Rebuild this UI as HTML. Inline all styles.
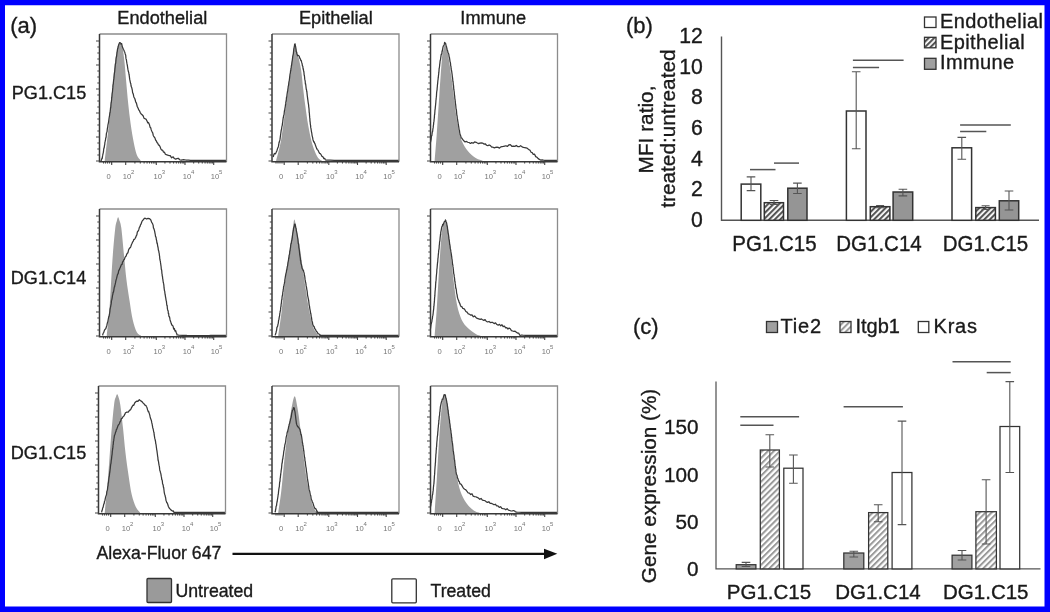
<!DOCTYPE html>
<html><head><meta charset="utf-8"><style>
html,body{margin:0;padding:0;background:#fff;}
body{width:1050px;height:612px;overflow:hidden;position:relative;}
.frame{position:absolute;left:0;top:0;width:1050px;height:612px;box-sizing:border-box;border-style:solid;border-color:#0000ff;border-width:5.2px 5.5px 5.6px 5px;}
svg{position:absolute;left:0;top:0;}
text{font-family:"Liberation Sans", sans-serif;stroke:#1a1a1a;stroke-width:0.35px;}
svg{will-change:transform;}
text.tl{stroke:none;}
</style></head><body>
<svg width="1050" height="612" viewBox="0 0 1050 612">
<defs><pattern id="hatch" patternUnits="userSpaceOnUse" width="4.2" height="4.2" patternTransform="rotate(45)">
<rect width="4.2" height="4.2" fill="#fff"/><rect x="0" y="0" width="2" height="4.2" fill="#9a9a9a"/></pattern>
<pattern id="hatchB" patternUnits="userSpaceOnUse" width="3.9" height="3.9" patternTransform="rotate(45)">
<rect width="3.9" height="3.9" fill="#fff"/><rect x="0" y="0" width="2.1" height="3.9" fill="#555"/></pattern></defs>
<text x="10.30" y="33.00" font-size="22.00" text-anchor="start" fill="#1a1a1a" >(a)</text>
<text x="162.30" y="24.30" font-size="18.20" text-anchor="middle" fill="#1a1a1a" >Endothelial</text>
<text x="335.80" y="24.30" font-size="18.20" text-anchor="middle" fill="#1a1a1a" >Epithelial</text>
<text x="493.20" y="24.30" font-size="18.20" text-anchor="middle" fill="#1a1a1a" >Immune</text>
<text x="11.80" y="99.30" font-size="18.10" text-anchor="start" fill="#1a1a1a" >PG1.C15</text>
<text x="10.80" y="283.60" font-size="18.10" text-anchor="start" fill="#1a1a1a" >DG1.C14</text>
<text x="10.80" y="458.60" font-size="18.10" text-anchor="start" fill="#1a1a1a" >DG1.C15</text>
<path d="M104.69,160.55 C105.21,156.16 106.76,143.84 107.80,134.24 C108.84,124.63 109.88,113.35 110.91,102.91 C111.95,92.47 112.99,80.64 114.03,71.59 C115.06,62.54 116.24,53.32 117.14,48.62 C118.04,43.92 118.56,43.68 119.42,43.40 C120.29,43.12 121.50,43.99 122.33,46.95 C123.16,49.91 123.78,55.65 124.40,61.15 C125.02,66.65 125.44,72.98 126.06,79.94 C126.68,86.90 127.38,95.60 128.14,102.91 C128.90,110.22 129.69,117.18 130.63,123.79 C131.56,130.41 132.70,137.37 133.74,142.59 C134.78,147.81 135.71,152.12 136.85,155.12 C137.99,158.11 139.97,159.64 140.59,160.55 L140.59,161.80 L104.69,161.80 Z" fill="#a0a0a0" stroke="none"/>
<path d="M100.54,160.55 L101.03,160.99 L101.99,158.22 L102.16,158.75 L102.35,157.72 L102.54,155.83 L102.75,155.18 L102.97,153.93 L103.21,153.05 L103.44,151.99 L103.69,149.37 L103.94,147.85 L104.19,147.85 L104.45,145.66 L104.71,144.76 L104.97,141.91 L105.22,141.22 L105.48,140.25 L105.73,137.92 L105.94,138.01 L106.15,136.70 L106.37,133.89 L106.59,132.62 L106.81,132.27 L107.04,131.70 L107.27,129.39 L107.50,127.78 L107.73,126.83 L107.95,124.78 L108.18,123.79 L108.41,122.82 L108.63,121.57 L108.85,119.73 L109.06,118.36 L109.27,116.97 L109.48,116.03 L109.68,114.35 L109.88,112.49 L110.05,112.71 L110.21,110.95 L110.37,109.84 L110.53,107.75 L110.69,107.92 L110.84,106.40 L110.99,103.78 L111.14,102.86 L111.28,102.26 L111.43,100.94 L111.57,100.04 L111.71,97.81 L111.85,97.24 L111.99,95.64 L112.13,93.67 L112.27,92.87 L112.41,92.10 L112.55,90.73 L112.70,88.81 L112.84,87.66 L112.99,85.37 L113.14,84.43 L113.29,84.10 L113.44,82.05 L113.60,80.23 L113.75,79.51 L113.91,78.39 L114.06,76.93 L114.22,74.98 L114.38,73.69 L114.53,72.43 L114.69,71.53 L114.84,69.71 L114.99,68.14 L115.14,67.01 L115.29,64.90 L115.43,63.69 L115.57,63.68 L115.71,63.04 L115.85,61.24 L115.98,59.84 L116.10,58.47 L116.38,56.98 L116.63,55.99 L116.86,53.96 L117.08,52.08 L117.30,51.34 L117.51,49.03 L117.72,48.47 L117.94,48.27 L118.18,46.67 L118.90,44.20 L119.64,42.57 L120.46,42.86 L121.02,44.16 L121.63,43.56 L122.25,46.37 L122.84,47.91 L123.36,49.31 L123.91,50.30 L124.38,51.56 L124.80,52.29 L125.23,53.95 L125.48,54.81 L125.71,55.36 L125.94,58.13 L126.16,58.97 L126.39,59.74 L126.64,61.76 L126.89,63.21 L127.13,64.32 L127.38,65.71 L127.64,67.50 L127.90,69.13 L128.17,70.60 L128.44,71.80 L128.71,72.47 L128.97,74.23 L129.23,75.50 L129.48,77.57 L129.74,79.39 L129.99,80.58 L130.25,81.87 L130.51,83.19 L130.77,83.45 L131.04,85.78 L131.35,86.92 L131.66,87.30 L131.97,88.62 L132.29,90.03 L132.62,92.76 L132.96,93.21 L133.33,94.27 L133.77,96.68 L134.24,97.60 L134.73,98.50 L135.22,100.02 L135.73,102.03 L136.23,102.73 L136.73,104.30 L137.23,106.49 L137.73,107.41 L138.25,108.52 L138.79,110.06 L139.34,110.41 L140.22,112.57 L141.15,113.93 L142.10,114.71 L143.08,115.78 L144.10,118.38 L145.17,118.79 L146.23,119.41 L147.23,121.48 L147.85,122.88 L148.43,122.51 L148.99,123.64 L149.56,125.08 L150.14,127.40 L150.76,127.78 L151.24,129.88 L151.73,131.04 L152.22,132.07 L152.73,132.79 L153.25,135.47 L153.78,136.46 L154.33,137.23 L154.91,137.91 L155.58,140.01 L156.28,140.87 L157.00,142.48 L157.74,143.28 L158.51,145.07 L159.29,145.23 L160.09,146.82 L160.92,149.16 L161.78,150.12 L162.66,150.19 L163.55,152.24 L164.47,152.24 L165.39,154.27 L166.32,154.72 L167.61,155.06 L168.90,155.51 L170.22,155.69 L171.63,157.79 L173.17,156.79 L174.36,158.55 L175.62,159.13 L176.94,158.71 L178.30,158.26 L179.69,159.75 L181.10,160.15 L182.51,159.87 L183.59,159.68 L184.48,159.80 L185.30,159.93 L186.18,160.04 L187.24,160.13 L188.63,160.21 L190.47,160.28 L192.88,160.34 L193.82,160.35 L194.88,160.37 L196.05,160.38 L197.31,160.39 L198.66,160.39 L200.08,160.40 L201.56,160.40 L203.09,160.40 L204.67,160.40 L206.27,160.40 L207.89,160.40 L209.52,160.39 L211.15,160.39 L212.77,160.38 L214.36,160.38 L215.91,160.37 L217.42,160.37 L218.87,160.36 L220.25,160.36 L221.56,160.35 L222.77,160.35 L223.88,160.34 L224.88,160.34 L225.76,160.34 L226.50,160.34" fill="none" stroke="#383838" stroke-width="1.25" stroke-linejoin="round"/>
<path d="M99.50,34.00 H226.50 V161.80" fill="none" stroke="#8c8c8c" stroke-width="1.3"/>
<path d="M99.50,34.00 V161.80 H226.50" fill="none" stroke="#383838" stroke-width="1.5"/>
<path d="M99.50,41.00 h-3.5 M99.50,47.00 h-2.2 M99.50,53.00 h-2.2 M99.50,59.00 h-2.2 M99.50,65.00 h-3.5 M99.50,71.00 h-2.2 M99.50,77.00 h-2.2 M99.50,83.00 h-2.2 M99.50,89.00 h-3.5 M99.50,95.00 h-2.2 M99.50,101.00 h-2.2 M99.50,107.00 h-2.2 M99.50,113.00 h-3.5 M99.50,119.00 h-2.2 M99.50,125.00 h-2.2 M99.50,131.00 h-2.2 M99.50,137.00 h-3.5 M99.50,143.00 h-2.2 M99.50,149.00 h-2.2 M99.50,155.00 h-2.2 M99.50,161.00 h-3.5 M111.70,161.80 v3.2 M125.70,161.80 v3.2 M156.30,161.80 v3.2 M185.00,161.80 v3.2 M213.70,161.80 v3.2 M134.91,161.80 v1.8 M140.30,161.80 v1.8 M144.12,161.80 v1.8 M147.09,161.80 v1.8 M149.51,161.80 v1.8 M151.56,161.80 v1.8 M153.33,161.80 v1.8 M154.90,161.80 v1.8 M164.94,161.80 v1.8 M169.99,161.80 v1.8 M173.58,161.80 v1.8 M176.36,161.80 v1.8 M178.63,161.80 v1.8 M180.55,161.80 v1.8 M182.22,161.80 v1.8 M183.69,161.80 v1.8 M193.64,161.80 v1.8 M198.69,161.80 v1.8 M202.28,161.80 v1.8 M205.06,161.80 v1.8 M207.33,161.80 v1.8 M209.25,161.80 v1.8 M210.92,161.80 v1.8 M212.39,161.80 v1.8 M103.50,161.80 v1.8 M105.50,161.80 v1.8 M107.50,161.80 v1.8 M109.50,161.80 v1.8 M111.50,161.80 v1.8" fill="none" stroke="#444" stroke-width="1.1"/>
<g font-size="7.6" fill="#767676"><text class="tl" x="108.50" y="179.20" text-anchor="middle">0</text><text class="tl" x="127.00" y="179.20" text-anchor="middle">10</text><text class="tl" x="131.10" y="174.20" font-size="6">2</text><text class="tl" x="157.70" y="179.20" text-anchor="middle">10</text><text class="tl" x="161.80" y="174.20" font-size="6">3</text><text class="tl" x="187.00" y="179.20" text-anchor="middle">10</text><text class="tl" x="191.10" y="174.20" font-size="6">4</text><text class="tl" x="215.00" y="179.20" text-anchor="middle">10</text><text class="tl" x="219.10" y="174.20" font-size="6">5</text></g>
<path d="M276.15,160.55 C277.01,156.86 279.61,148.37 281.34,138.41 C283.07,128.46 284.97,111.96 286.53,100.82 C288.08,89.69 289.47,80.12 290.68,71.59 C291.89,63.06 293.03,53.84 293.79,49.66 C294.55,45.49 294.55,45.66 295.24,46.53 C295.93,47.40 296.97,51.05 297.94,54.88 C298.91,58.71 300.19,63.93 301.05,69.50 C301.92,75.07 302.44,82.38 303.13,88.29 C303.82,94.21 304.34,98.74 305.20,105.00 C306.07,111.26 307.10,119.27 308.32,125.88 C309.53,132.50 310.91,139.46 312.47,144.68 C314.02,149.90 316.10,154.56 317.65,157.21 C319.21,159.85 321.11,159.99 321.80,160.55 L321.80,161.80 L276.15,161.80 Z" fill="#a0a0a0" stroke="none"/>
<path d="M273.04,156.98 L273.44,156.38 L273.97,154.14 L274.60,153.45 L275.31,153.89 L276.05,152.58 L276.81,151.03 L277.54,148.61 L278.23,146.96 L278.46,146.04 L278.70,145.01 L278.93,143.21 L279.17,142.59 L279.40,141.36 L279.64,140.74 L279.88,139.96 L280.11,138.58 L280.35,136.51 L280.58,134.95 L280.82,133.23 L281.06,131.38 L281.29,129.92 L281.53,129.24 L281.76,127.50 L282.00,126.12 L282.23,125.56 L282.47,123.41 L282.71,122.00 L282.94,119.94 L283.18,118.11 L283.41,117.21 L283.61,115.66 L283.82,115.10 L284.02,114.72 L284.22,112.87 L284.43,110.70 L284.63,110.68 L284.84,109.20 L285.04,107.77 L285.25,106.76 L285.46,105.17 L285.66,103.89 L285.87,101.77 L286.07,101.56 L286.28,100.19 L286.48,97.42 L286.68,97.16 L286.88,95.77 L287.08,94.00 L287.28,92.83 L287.47,91.47 L287.67,90.98 L287.86,88.96 L288.05,88.31 L288.24,86.23 L288.42,85.98 L288.60,84.84 L288.82,82.60 L289.05,81.35 L289.27,80.54 L289.49,78.74 L289.71,76.88 L289.92,74.98 L290.14,73.75 L290.35,73.02 L290.56,70.68 L290.77,70.65 L290.97,68.15 L291.17,67.99 L291.37,65.62 L291.56,65.53 L291.75,63.85 L291.93,62.30 L292.11,61.17 L292.28,60.30 L292.44,59.12 L292.60,57.60 L292.75,56.44 L293.07,54.84 L293.35,53.56 L293.60,51.12 L293.82,48.43 L294.02,48.28 L294.21,46.86 L294.41,46.20 L294.61,44.24 L294.83,44.88 L295.11,43.88 L295.39,45.96 L295.66,46.80 L295.94,48.53 L296.23,51.57 L296.55,51.87 L296.90,53.88 L297.61,55.74 L298.39,55.40 L299.21,56.13 L300.01,58.70 L300.41,58.86 L300.82,60.50 L301.23,60.49 L301.64,62.40 L302.04,63.45 L302.42,65.79 L302.79,66.21 L303.13,69.27 L303.37,68.80 L303.59,71.27 L303.79,71.21 L303.98,72.87 L304.17,75.15 L304.35,75.31 L304.54,76.75 L304.74,79.14 L304.96,80.16 L305.20,81.21 L305.37,84.00 L305.54,83.61 L305.72,84.54 L305.91,86.26 L306.10,87.94 L306.29,89.39 L306.49,89.51 L306.69,91.20 L306.90,91.96 L307.10,94.06 L307.31,96.00 L307.51,97.36 L307.72,99.10 L307.92,100.31 L308.12,102.02 L308.32,103.28 L308.45,104.03 L308.59,104.81 L308.72,106.87 L308.85,107.57 L308.98,108.54 L309.11,110.56 L309.23,112.74 L309.36,112.83 L309.49,115.10 L309.61,116.21 L309.74,117.88 L309.87,118.66 L310.01,121.57 L310.14,121.73 L310.28,123.75 L310.43,124.78 L310.58,125.39 L310.74,127.65 L310.90,128.14 L311.07,129.17 L311.24,130.25 L311.43,131.54 L311.78,133.22 L312.15,135.85 L312.53,137.15 L312.93,139.44 L313.34,140.68 L313.76,142.04 L314.20,141.86 L314.66,143.38 L315.12,144.13 L315.61,145.82 L316.10,146.95 L316.62,148.35 L317.31,149.62 L318.03,150.20 L318.77,151.85 L319.53,153.31 L320.32,153.58 L321.15,154.75 L322.02,156.43 L322.92,156.79 L323.88,158.65 L324.66,158.46 L324.98,158.69 L325.15,159.16 L325.47,159.95 L326.25,160.08 L327.77,160.16 L330.33,160.23 L334.25,160.34 L335.06,160.36 L335.93,160.38 L336.87,160.39 L337.87,160.41 L338.93,160.42 L340.05,160.44 L341.22,160.45 L342.44,160.46 L343.71,160.47 L345.03,160.47 L346.38,160.48 L347.78,160.48 L349.21,160.49 L350.68,160.49 L352.17,160.49 L353.69,160.49 L355.24,160.49 L356.81,160.49 L358.39,160.49 L359.99,160.49 L361.60,160.48 L363.21,160.48 L364.84,160.48 L366.46,160.47 L368.09,160.47 L369.71,160.46 L371.32,160.45 L372.93,160.45 L374.52,160.44 L376.10,160.43 L377.66,160.43 L379.19,160.42 L380.70,160.41 L382.18,160.41 L383.64,160.40 L385.05,160.39 L386.43,160.39 L387.77,160.38 L389.07,160.37 L390.32,160.37 L391.52,160.36 L392.67,160.36 L393.77,160.35 L394.80,160.35 L395.78,160.34 L396.69,160.34 L397.53,160.34 L398.30,160.34 L399.00,160.34" fill="none" stroke="#383838" stroke-width="1.25" stroke-linejoin="round"/>
<path d="M272.00,34.00 H399.00 V161.80" fill="none" stroke="#8c8c8c" stroke-width="1.3"/>
<path d="M272.00,34.00 V161.80 H399.00" fill="none" stroke="#383838" stroke-width="1.5"/>
<path d="M272.00,41.00 h-3.5 M272.00,47.00 h-2.2 M272.00,53.00 h-2.2 M272.00,59.00 h-2.2 M272.00,65.00 h-3.5 M272.00,71.00 h-2.2 M272.00,77.00 h-2.2 M272.00,83.00 h-2.2 M272.00,89.00 h-3.5 M272.00,95.00 h-2.2 M272.00,101.00 h-2.2 M272.00,107.00 h-2.2 M272.00,113.00 h-3.5 M272.00,119.00 h-2.2 M272.00,125.00 h-2.2 M272.00,131.00 h-2.2 M272.00,137.00 h-3.5 M272.00,143.00 h-2.2 M272.00,149.00 h-2.2 M272.00,155.00 h-2.2 M272.00,161.00 h-3.5 M284.20,161.80 v3.2 M298.20,161.80 v3.2 M328.80,161.80 v3.2 M357.50,161.80 v3.2 M386.20,161.80 v3.2 M307.41,161.80 v1.8 M312.80,161.80 v1.8 M316.62,161.80 v1.8 M319.59,161.80 v1.8 M322.01,161.80 v1.8 M324.06,161.80 v1.8 M325.83,161.80 v1.8 M327.40,161.80 v1.8 M337.44,161.80 v1.8 M342.49,161.80 v1.8 M346.08,161.80 v1.8 M348.86,161.80 v1.8 M351.13,161.80 v1.8 M353.05,161.80 v1.8 M354.72,161.80 v1.8 M356.19,161.80 v1.8 M366.14,161.80 v1.8 M371.19,161.80 v1.8 M374.78,161.80 v1.8 M377.56,161.80 v1.8 M379.83,161.80 v1.8 M381.75,161.80 v1.8 M383.42,161.80 v1.8 M384.89,161.80 v1.8 M276.00,161.80 v1.8 M278.00,161.80 v1.8 M280.00,161.80 v1.8 M282.00,161.80 v1.8 M284.00,161.80 v1.8" fill="none" stroke="#444" stroke-width="1.1"/>
<g font-size="7.6" fill="#767676"><text class="tl" x="281.00" y="179.20" text-anchor="middle">0</text><text class="tl" x="299.50" y="179.20" text-anchor="middle">10</text><text class="tl" x="303.60" y="174.20" font-size="6">2</text><text class="tl" x="330.20" y="179.20" text-anchor="middle">10</text><text class="tl" x="334.30" y="174.20" font-size="6">3</text><text class="tl" x="359.50" y="179.20" text-anchor="middle">10</text><text class="tl" x="363.60" y="174.20" font-size="6">4</text><text class="tl" x="387.50" y="179.20" text-anchor="middle">10</text><text class="tl" x="391.60" y="174.20" font-size="6">5</text></g>
<path d="M434.65,160.55 C435.00,156.16 435.96,144.89 436.73,134.24 C437.49,123.59 438.35,109.18 439.22,96.65 C440.08,84.12 441.22,66.89 441.91,59.06 C442.61,51.23 442.92,51.92 443.37,49.66 C443.82,47.40 444.20,45.94 444.61,45.49 C445.03,45.03 445.27,45.38 445.86,46.95 C446.44,48.51 447.24,50.08 448.14,54.88 C449.04,59.69 450.21,68.11 451.25,75.76 C452.29,83.42 453.33,92.82 454.36,100.82 C455.40,108.83 456.27,117.18 457.48,123.79 C458.69,130.41 459.90,135.98 461.63,140.50 C463.36,145.02 465.43,147.98 467.85,150.94 C470.27,153.90 473.73,156.65 476.15,158.25 C478.57,159.85 481.34,160.16 482.38,160.55 L482.38,161.80 L434.65,161.80 Z" fill="#a0a0a0" stroke="none"/>
<path d="M430.50,142.12 L430.63,141.93 L430.78,140.77 L430.96,140.22 L431.16,139.18 L431.38,136.99 L431.62,135.63 L431.86,135.76 L432.12,133.28 L432.37,131.72 L432.63,131.52 L432.89,128.94 L433.14,127.91 L433.38,125.52 L433.61,124.04 L433.74,122.10 L433.87,121.86 L434.00,121.13 L434.13,119.32 L434.26,118.48 L434.39,117.10 L434.52,114.73 L434.65,114.67 L434.78,113.04 L434.91,111.17 L435.04,109.32 L435.17,109.44 L435.30,107.35 L435.43,106.40 L435.56,105.30 L435.69,103.61 L435.82,102.59 L435.95,100.26 L436.08,99.62 L436.21,97.62 L436.34,97.16 L436.47,95.73 L436.60,93.02 L436.73,91.82 L436.87,90.57 L437.01,90.51 L437.15,88.14 L437.30,87.04 L437.44,85.01 L437.59,83.94 L437.73,82.27 L437.87,80.76 L438.02,79.74 L438.16,78.31 L438.31,77.47 L438.45,75.67 L438.59,74.75 L438.74,73.27 L438.88,72.19 L439.02,70.33 L439.16,68.17 L439.30,68.22 L439.43,67.25 L439.57,66.03 L439.71,64.36 L439.84,63.62 L440.13,60.69 L440.42,59.99 L440.71,57.89 L441.00,55.91 L441.28,54.19 L441.55,54.41 L441.82,53.54 L442.07,50.88 L442.31,51.17 L442.54,49.50 L443.04,46.95 L443.48,45.66 L443.86,45.38 L444.20,44.69 L444.64,42.37 L445.03,43.60 L445.52,43.22 L446.27,46.50 L446.55,46.72 L446.88,48.75 L447.23,50.10 L447.61,50.55 L448.00,52.86 L448.40,53.16 L448.79,54.42 L449.18,57.15 L449.39,57.21 L449.61,58.62 L449.83,60.16 L450.05,61.72 L450.27,62.14 L450.50,63.21 L450.72,66.01 L450.94,66.37 L451.17,68.94 L451.39,70.27 L451.62,70.82 L451.84,72.50 L452.07,74.18 L452.29,76.02 L452.44,77.05 L452.59,78.15 L452.73,79.46 L452.88,81.27 L453.03,81.75 L453.18,82.91 L453.33,84.75 L453.48,85.21 L453.62,86.68 L453.77,89.25 L453.92,89.80 L454.07,91.22 L454.22,91.62 L454.36,93.71 L454.51,95.36 L454.66,95.69 L454.81,98.09 L454.96,99.42 L455.11,99.66 L455.25,101.93 L455.40,102.85 L455.59,104.71 L455.77,105.60 L455.95,107.72 L456.13,109.25 L456.32,109.43 L456.50,110.96 L456.68,113.51 L456.87,115.44 L457.05,115.56 L457.23,117.30 L457.42,118.88 L457.60,119.69 L457.78,121.04 L457.97,122.17 L458.15,123.45 L458.33,124.98 L458.51,125.52 L458.84,127.56 L459.15,130.02 L459.44,130.29 L459.73,132.75 L460.03,134.41 L460.36,134.90 L460.73,135.89 L461.14,137.99 L461.63,137.94 L462.64,139.29 L463.79,140.77 L465.06,141.98 L466.43,141.44 L467.85,142.27 L469.09,142.51 L470.39,143.42 L471.74,142.61 L473.16,143.23 L474.63,141.92 L476.15,142.29 L477.35,143.01 L478.60,143.63 L479.89,143.08 L481.21,142.94 L482.55,143.04 L483.89,144.09 L485.22,143.79 L486.53,145.23 L487.83,145.66 L489.12,144.94 L490.42,145.61 L491.72,147.06 L493.01,147.23 L494.31,147.92 L495.61,147.38 L496.91,147.14 L498.20,147.41 L499.50,148.13 L500.80,146.90 L502.09,146.68 L503.39,146.43 L504.69,146.07 L505.98,145.75 L507.28,146.48 L508.78,144.97 L510.31,144.62 L511.84,146.26 L513.36,146.15 L514.84,146.38 L516.28,145.47 L517.66,146.53 L519.18,146.68 L520.65,145.65 L522.07,146.88 L523.42,147.41 L524.72,147.55 L525.96,147.84 L527.09,148.11 L528.11,148.99 L529.07,149.67 L530.03,150.32 L531.05,152.22 L532.18,152.65 L533.28,154.47 L534.46,154.08 L535.70,156.64 L536.96,157.27 L538.20,158.62 L539.39,159.38 L540.48,160.01 L542.08,159.95 L543.44,160.21 L544.88,160.27 L546.71,160.34 L547.91,160.39 L549.34,160.41 L550.90,160.41 L552.49,160.40 L554.04,160.38 L555.45,160.36 L556.64,160.35 L557.50,160.34" fill="none" stroke="#383838" stroke-width="1.25" stroke-linejoin="round"/>
<path d="M430.50,34.00 H557.50 V161.80" fill="none" stroke="#8c8c8c" stroke-width="1.3"/>
<path d="M430.50,34.00 V161.80 H557.50" fill="none" stroke="#383838" stroke-width="1.5"/>
<path d="M430.50,41.00 h-3.5 M430.50,47.00 h-2.2 M430.50,53.00 h-2.2 M430.50,59.00 h-2.2 M430.50,65.00 h-3.5 M430.50,71.00 h-2.2 M430.50,77.00 h-2.2 M430.50,83.00 h-2.2 M430.50,89.00 h-3.5 M430.50,95.00 h-2.2 M430.50,101.00 h-2.2 M430.50,107.00 h-2.2 M430.50,113.00 h-3.5 M430.50,119.00 h-2.2 M430.50,125.00 h-2.2 M430.50,131.00 h-2.2 M430.50,137.00 h-3.5 M430.50,143.00 h-2.2 M430.50,149.00 h-2.2 M430.50,155.00 h-2.2 M430.50,161.00 h-3.5 M442.70,161.80 v3.2 M456.70,161.80 v3.2 M487.30,161.80 v3.2 M516.00,161.80 v3.2 M544.70,161.80 v3.2 M465.91,161.80 v1.8 M471.30,161.80 v1.8 M475.12,161.80 v1.8 M478.09,161.80 v1.8 M480.51,161.80 v1.8 M482.56,161.80 v1.8 M484.33,161.80 v1.8 M485.90,161.80 v1.8 M495.94,161.80 v1.8 M500.99,161.80 v1.8 M504.58,161.80 v1.8 M507.36,161.80 v1.8 M509.63,161.80 v1.8 M511.55,161.80 v1.8 M513.22,161.80 v1.8 M514.69,161.80 v1.8 M524.64,161.80 v1.8 M529.69,161.80 v1.8 M533.28,161.80 v1.8 M536.06,161.80 v1.8 M538.33,161.80 v1.8 M540.25,161.80 v1.8 M541.92,161.80 v1.8 M543.39,161.80 v1.8 M434.50,161.80 v1.8 M436.50,161.80 v1.8 M438.50,161.80 v1.8 M440.50,161.80 v1.8 M442.50,161.80 v1.8" fill="none" stroke="#444" stroke-width="1.1"/>
<g font-size="7.6" fill="#767676"><text class="tl" x="439.50" y="179.20" text-anchor="middle">0</text><text class="tl" x="458.00" y="179.20" text-anchor="middle">10</text><text class="tl" x="462.10" y="174.20" font-size="6">2</text><text class="tl" x="488.70" y="179.20" text-anchor="middle">10</text><text class="tl" x="492.80" y="174.20" font-size="6">3</text><text class="tl" x="518.00" y="179.20" text-anchor="middle">10</text><text class="tl" x="522.10" y="174.20" font-size="6">4</text><text class="tl" x="546.00" y="179.20" text-anchor="middle">10</text><text class="tl" x="550.10" y="174.20" font-size="6">5</text></g>
<path d="M106.76,335.55 C107.28,330.12 108.94,315.36 109.88,302.97 C110.81,290.58 111.50,273.39 112.37,261.21 C113.23,249.02 114.30,236.67 115.06,229.88 C115.82,223.10 116.41,222.57 116.93,220.49 C117.45,218.40 117.76,217.35 118.18,217.35 C118.59,217.35 118.90,218.75 119.42,220.49 C119.94,222.23 120.53,222.05 121.29,227.79 C122.05,233.54 123.12,246.24 123.99,254.94 C124.85,263.64 125.54,272.34 126.48,280.00 C127.41,287.66 128.55,294.27 129.59,300.88 C130.63,307.50 131.49,314.46 132.70,319.68 C133.91,324.90 135.47,329.56 136.85,332.21 C138.24,334.85 140.31,334.99 141.00,335.55 L141.00,336.80 L106.76,336.80 Z" fill="#a0a0a0" stroke="none"/>
<path d="M102.61,335.34 L102.89,334.17 L103.25,333.11 L103.68,332.68 L104.16,331.18 L104.68,329.84 L105.22,329.16 L105.77,328.72 L106.32,327.05 L106.85,325.47 L107.35,322.90 L107.80,321.83 L108.07,320.25 L108.34,318.88 L108.60,317.51 L108.85,316.40 L109.10,316.34 L109.34,314.78 L109.58,313.32 L109.82,311.87 L110.06,309.33 L110.29,308.08 L110.53,307.20 L110.76,305.95 L111.00,304.75 L111.23,303.40 L111.47,300.62 L111.71,300.24 L111.95,299.10 L112.25,297.32 L112.54,295.26 L112.84,294.33 L113.14,292.20 L113.43,292.30 L113.73,290.78 L114.03,288.83 L114.32,287.04 L114.62,286.81 L114.92,284.92 L115.21,284.23 L115.51,282.95 L115.80,281.15 L116.10,279.85 L116.52,278.65 L116.93,276.90 L117.35,275.04 L117.76,273.99 L118.18,273.65 L118.59,271.06 L119.01,269.91 L119.42,269.84 L119.84,268.13 L120.25,267.53 L120.84,266.01 L121.44,264.50 L122.03,264.49 L122.62,261.93 L123.22,261.23 L123.81,259.74 L124.40,259.36 L124.99,257.52 L125.59,256.47 L126.18,255.98 L126.77,254.02 L127.37,253.26 L127.96,252.69 L128.55,250.05 L129.15,248.78 L129.74,247.89 L130.33,247.66 L130.92,246.20 L131.52,244.33 L132.11,243.30 L132.70,241.83 L133.30,241.16 L133.89,239.26 L134.48,239.30 L135.07,238.50 L135.67,237.42 L136.26,235.78 L136.85,234.89 L137.37,231.95 L137.89,231.09 L138.41,230.91 L138.93,229.14 L139.45,227.08 L139.97,226.71 L140.48,224.90 L141.00,224.19 L141.83,221.77 L142.66,220.30 L143.49,219.68 L144.32,218.30 L145.15,218.18 L146.58,219.00 L148.00,218.33 L149.30,218.56 L150.16,219.25 L150.93,220.22 L151.66,222.42 L152.42,223.37 L152.76,224.25 L153.11,225.08 L153.45,227.97 L153.80,228.36 L154.15,229.45 L154.49,230.71 L154.84,232.26 L155.18,234.02 L155.53,236.47 L155.81,236.74 L156.10,237.77 L156.38,239.80 L156.66,240.59 L156.94,243.19 L157.23,242.90 L157.51,244.95 L157.79,246.76 L158.08,247.53 L158.36,250.07 L158.64,250.72 L158.83,251.42 L159.02,252.87 L159.21,253.37 L159.40,255.26 L159.58,256.16 L159.76,258.56 L159.95,259.73 L160.13,260.42 L160.32,260.90 L160.51,262.64 L160.71,263.98 L160.90,265.31 L161.11,266.77 L161.32,269.36 L161.53,269.51 L161.75,270.84 L161.93,273.58 L162.11,274.13 L162.29,276.13 L162.48,276.34 L162.67,278.53 L162.87,279.41 L163.06,280.99 L163.26,282.25 L163.46,283.16 L163.66,283.80 L163.87,285.38 L164.07,287.94 L164.28,289.35 L164.48,290.74 L164.69,291.02 L164.89,292.91 L165.10,294.46 L165.30,295.45 L165.51,296.99 L165.71,297.68 L165.91,299.07 L166.16,300.62 L166.41,301.34 L166.65,303.98 L166.89,305.47 L167.13,305.30 L167.37,308.30 L167.61,309.64 L167.85,310.45 L168.10,310.64 L168.35,313.45 L168.61,313.31 L168.87,316.03 L169.15,316.67 L169.44,316.72 L169.74,318.01 L170.06,319.92 L170.59,321.43 L171.17,323.31 L171.77,325.11 L172.40,325.23 L173.04,326.16 L173.69,329.03 L174.35,328.52 L175.00,331.11 L175.65,330.68 L176.28,332.76 L176.92,333.99 L176.96,334.97 L177.30,334.85 L178.84,335.06 L182.51,335.34 L183.32,335.38 L184.24,335.42 L185.25,335.46 L186.36,335.48 L187.54,335.51 L188.80,335.53 L190.13,335.54 L191.52,335.56 L192.97,335.56 L194.47,335.57 L196.00,335.57 L197.57,335.57 L199.17,335.56 L200.79,335.56 L202.43,335.55 L204.07,335.54 L205.71,335.53 L207.35,335.51 L208.97,335.50 L210.58,335.49 L212.15,335.47 L213.70,335.45 L215.20,335.44 L216.65,335.42 L218.05,335.41 L219.40,335.39 L220.67,335.38 L221.87,335.37 L222.98,335.36 L224.01,335.35 L224.95,335.34 L225.78,335.34 L226.50,335.34" fill="none" stroke="#383838" stroke-width="1.25" stroke-linejoin="round"/>
<path d="M99.50,209.00 H226.50 V336.80" fill="none" stroke="#8c8c8c" stroke-width="1.3"/>
<path d="M99.50,209.00 V336.80 H226.50" fill="none" stroke="#383838" stroke-width="1.5"/>
<path d="M99.50,216.00 h-3.5 M99.50,222.00 h-2.2 M99.50,228.00 h-2.2 M99.50,234.00 h-2.2 M99.50,240.00 h-3.5 M99.50,246.00 h-2.2 M99.50,252.00 h-2.2 M99.50,258.00 h-2.2 M99.50,264.00 h-3.5 M99.50,270.00 h-2.2 M99.50,276.00 h-2.2 M99.50,282.00 h-2.2 M99.50,288.00 h-3.5 M99.50,294.00 h-2.2 M99.50,300.00 h-2.2 M99.50,306.00 h-2.2 M99.50,312.00 h-3.5 M99.50,318.00 h-2.2 M99.50,324.00 h-2.2 M99.50,330.00 h-2.2 M99.50,336.00 h-3.5 M111.70,336.80 v3.2 M125.70,336.80 v3.2 M156.30,336.80 v3.2 M185.00,336.80 v3.2 M213.70,336.80 v3.2 M134.91,336.80 v1.8 M140.30,336.80 v1.8 M144.12,336.80 v1.8 M147.09,336.80 v1.8 M149.51,336.80 v1.8 M151.56,336.80 v1.8 M153.33,336.80 v1.8 M154.90,336.80 v1.8 M164.94,336.80 v1.8 M169.99,336.80 v1.8 M173.58,336.80 v1.8 M176.36,336.80 v1.8 M178.63,336.80 v1.8 M180.55,336.80 v1.8 M182.22,336.80 v1.8 M183.69,336.80 v1.8 M193.64,336.80 v1.8 M198.69,336.80 v1.8 M202.28,336.80 v1.8 M205.06,336.80 v1.8 M207.33,336.80 v1.8 M209.25,336.80 v1.8 M210.92,336.80 v1.8 M212.39,336.80 v1.8 M103.50,336.80 v1.8 M105.50,336.80 v1.8 M107.50,336.80 v1.8 M109.50,336.80 v1.8 M111.50,336.80 v1.8" fill="none" stroke="#444" stroke-width="1.1"/>
<g font-size="7.6" fill="#767676"><text class="tl" x="108.50" y="354.20" text-anchor="middle">0</text><text class="tl" x="127.00" y="354.20" text-anchor="middle">10</text><text class="tl" x="131.10" y="349.20" font-size="6">2</text><text class="tl" x="157.70" y="354.20" text-anchor="middle">10</text><text class="tl" x="161.80" y="349.20" font-size="6">3</text><text class="tl" x="187.00" y="354.20" text-anchor="middle">10</text><text class="tl" x="191.10" y="349.20" font-size="6">4</text><text class="tl" x="215.00" y="354.20" text-anchor="middle">10</text><text class="tl" x="219.10" y="349.20" font-size="6">5</text></g>
<path d="M278.23,335.55 C278.74,331.86 280.13,323.02 281.34,313.41 C282.55,303.81 284.11,288.35 285.49,277.91 C286.87,267.47 288.43,258.77 289.64,250.76 C290.85,242.76 291.96,235.10 292.75,229.88 C293.55,224.66 293.72,219.09 294.41,219.44 C295.10,219.79 295.97,227.10 296.90,231.97 C297.84,236.84 298.98,242.06 300.01,248.68 C301.05,255.29 302.09,264.34 303.13,271.65 C304.17,278.96 305.20,285.92 306.24,292.53 C307.28,299.14 308.14,305.41 309.35,311.32 C310.56,317.24 311.95,323.99 313.50,328.03 C315.06,332.07 317.83,334.29 318.69,335.55 L318.69,336.80 L278.23,336.80 Z" fill="#a0a0a0" stroke="none"/>
<path d="M275.11,335.34 L275.28,334.87 L275.49,334.27 L275.73,333.45 L276.00,332.69 L276.29,331.21 L276.60,330.34 L276.93,327.44 L277.27,326.87 L277.61,326.30 L277.96,324.28 L278.30,323.19 L278.63,320.19 L278.96,319.20 L279.26,317.13 L279.45,316.57 L279.64,315.47 L279.83,313.26 L280.02,312.38 L280.21,311.20 L280.39,311.02 L280.58,309.40 L280.77,306.93 L280.96,306.67 L281.15,304.07 L281.34,303.51 L281.53,301.19 L281.72,299.54 L281.90,299.67 L282.09,297.07 L282.28,295.67 L282.47,295.67 L282.66,294.11 L282.85,291.73 L283.04,291.65 L283.22,289.63 L283.41,288.67 L283.66,286.31 L283.90,286.17 L284.15,284.29 L284.39,283.40 L284.63,281.91 L284.88,279.50 L285.12,278.30 L285.37,276.65 L285.61,275.32 L285.85,273.89 L286.10,273.03 L286.34,272.29 L286.59,269.90 L286.83,269.80 L287.08,267.85 L287.32,266.44 L287.56,265.96 L287.78,264.07 L288.01,262.45 L288.23,261.41 L288.46,260.45 L288.68,257.90 L288.91,258.16 L289.14,255.04 L289.36,254.95 L289.59,253.72 L289.82,250.83 L290.04,250.84 L290.26,248.71 L290.48,247.75 L290.70,245.42 L290.91,244.20 L291.12,243.20 L291.32,243.40 L291.52,240.88 L291.71,240.78 L292.01,239.36 L292.29,237.60 L292.57,234.73 L292.83,232.99 L293.08,231.59 L293.34,230.44 L293.58,227.79 L293.83,227.66 L294.07,226.69 L294.32,226.00 L294.57,224.01 L294.83,225.46 L295.09,224.11 L295.35,225.09 L295.60,226.40 L295.86,228.04 L296.12,228.31 L296.38,230.84 L296.64,231.77 L296.90,233.06 L297.16,234.83 L297.42,236.35 L297.68,237.90 L297.94,239.69 L298.12,241.85 L298.31,243.66 L298.49,243.49 L298.67,244.68 L298.86,247.80 L299.04,248.46 L299.22,249.72 L299.40,250.91 L299.59,253.05 L299.77,254.95 L299.95,255.74 L300.14,257.09 L300.32,257.80 L300.50,260.65 L300.69,260.28 L300.87,262.25 L301.05,263.90 L301.44,264.48 L301.83,267.01 L302.22,268.57 L302.61,269.01 L303.00,270.28 L303.39,270.12 L303.78,272.00 L304.17,273.10 L304.39,275.44 L304.61,275.61 L304.83,277.13 L305.05,279.39 L305.28,280.47 L305.50,282.06 L305.72,282.53 L305.94,284.02 L306.17,285.89 L306.39,286.88 L306.61,287.98 L306.83,289.60 L307.06,290.53 L307.28,292.31 L307.50,294.76 L307.72,296.08 L307.94,296.86 L308.17,298.02 L308.39,299.12 L308.61,300.06 L308.83,301.78 L309.06,304.07 L309.28,305.58 L309.50,306.01 L309.72,308.09 L309.95,309.35 L310.17,310.46 L310.39,311.62 L310.66,313.30 L310.91,314.07 L311.16,316.15 L311.39,316.82 L311.63,318.58 L311.88,320.44 L312.14,321.61 L312.43,322.15 L312.75,324.52 L313.10,325.13 L313.50,326.09 L314.12,326.46 L314.79,328.73 L315.52,329.40 L316.29,331.27 L317.11,331.91 L317.95,333.44 L318.83,333.91 L319.73,334.83 L320.27,334.90 L320.02,335.22 L319.83,335.34 L320.54,335.34 L323.00,335.31 L328.03,335.34 L328.80,335.35 L329.63,335.36 L330.52,335.36 L331.48,335.37 L332.49,335.38 L333.55,335.38 L334.67,335.39 L335.84,335.39 L337.05,335.40 L338.31,335.40 L339.61,335.41 L340.95,335.41 L342.33,335.41 L343.74,335.41 L345.18,335.41 L346.65,335.41 L348.15,335.42 L349.67,335.42 L351.22,335.42 L352.78,335.41 L354.36,335.41 L355.95,335.41 L357.55,335.41 L359.17,335.41 L360.79,335.41 L362.41,335.41 L364.03,335.40 L365.66,335.40 L367.27,335.40 L368.89,335.40 L370.49,335.39 L372.08,335.39 L373.66,335.39 L375.22,335.38 L376.76,335.38 L378.28,335.38 L379.77,335.37 L381.24,335.37 L382.68,335.37 L384.09,335.36 L385.46,335.36 L386.80,335.36 L388.09,335.36 L389.34,335.35 L390.55,335.35 L391.71,335.35 L392.83,335.35 L393.89,335.34 L394.89,335.34 L395.84,335.34 L396.72,335.34 L397.55,335.34 L398.31,335.34 L399.00,335.34" fill="none" stroke="#383838" stroke-width="1.25" stroke-linejoin="round"/>
<path d="M272.00,209.00 H399.00 V336.80" fill="none" stroke="#8c8c8c" stroke-width="1.3"/>
<path d="M272.00,209.00 V336.80 H399.00" fill="none" stroke="#383838" stroke-width="1.5"/>
<path d="M272.00,216.00 h-3.5 M272.00,222.00 h-2.2 M272.00,228.00 h-2.2 M272.00,234.00 h-2.2 M272.00,240.00 h-3.5 M272.00,246.00 h-2.2 M272.00,252.00 h-2.2 M272.00,258.00 h-2.2 M272.00,264.00 h-3.5 M272.00,270.00 h-2.2 M272.00,276.00 h-2.2 M272.00,282.00 h-2.2 M272.00,288.00 h-3.5 M272.00,294.00 h-2.2 M272.00,300.00 h-2.2 M272.00,306.00 h-2.2 M272.00,312.00 h-3.5 M272.00,318.00 h-2.2 M272.00,324.00 h-2.2 M272.00,330.00 h-2.2 M272.00,336.00 h-3.5 M284.20,336.80 v3.2 M298.20,336.80 v3.2 M328.80,336.80 v3.2 M357.50,336.80 v3.2 M386.20,336.80 v3.2 M307.41,336.80 v1.8 M312.80,336.80 v1.8 M316.62,336.80 v1.8 M319.59,336.80 v1.8 M322.01,336.80 v1.8 M324.06,336.80 v1.8 M325.83,336.80 v1.8 M327.40,336.80 v1.8 M337.44,336.80 v1.8 M342.49,336.80 v1.8 M346.08,336.80 v1.8 M348.86,336.80 v1.8 M351.13,336.80 v1.8 M353.05,336.80 v1.8 M354.72,336.80 v1.8 M356.19,336.80 v1.8 M366.14,336.80 v1.8 M371.19,336.80 v1.8 M374.78,336.80 v1.8 M377.56,336.80 v1.8 M379.83,336.80 v1.8 M381.75,336.80 v1.8 M383.42,336.80 v1.8 M384.89,336.80 v1.8 M276.00,336.80 v1.8 M278.00,336.80 v1.8 M280.00,336.80 v1.8 M282.00,336.80 v1.8 M284.00,336.80 v1.8" fill="none" stroke="#444" stroke-width="1.1"/>
<g font-size="7.6" fill="#767676"><text class="tl" x="281.00" y="354.20" text-anchor="middle">0</text><text class="tl" x="299.50" y="354.20" text-anchor="middle">10</text><text class="tl" x="303.60" y="349.20" font-size="6">2</text><text class="tl" x="330.20" y="354.20" text-anchor="middle">10</text><text class="tl" x="334.30" y="349.20" font-size="6">3</text><text class="tl" x="359.50" y="354.20" text-anchor="middle">10</text><text class="tl" x="363.60" y="349.20" font-size="6">4</text><text class="tl" x="387.50" y="354.20" text-anchor="middle">10</text><text class="tl" x="391.60" y="349.20" font-size="6">5</text></g>
<path d="M434.65,335.55 C435.00,331.16 435.96,320.58 436.73,309.24 C437.49,297.89 438.35,280.35 439.22,267.47 C440.08,254.59 441.08,239.28 441.91,231.97 C442.74,224.66 443.61,225.36 444.20,223.62 C444.78,221.88 445.03,221.46 445.44,221.53 C445.86,221.60 446.13,221.95 446.69,224.04 C447.24,226.12 448.00,228.56 448.76,234.06 C449.52,239.56 450.42,249.02 451.25,257.03 C452.08,265.03 452.77,274.08 453.74,282.09 C454.71,290.09 455.75,298.79 457.06,305.06 C458.38,311.32 459.83,315.85 461.63,319.68 C463.43,323.50 465.43,325.59 467.85,328.03 C470.27,330.47 474.08,333.04 476.15,334.29 C478.23,335.55 479.61,335.34 480.30,335.55 L480.30,336.80 L434.65,336.80 Z" fill="#a0a0a0" stroke="none"/>
<path d="M430.50,328.56 L430.63,327.89 L430.78,326.47 L430.96,325.16 L431.16,323.68 L431.38,323.77 L431.62,322.22 L431.86,321.45 L432.12,319.36 L432.37,318.59 L432.63,316.11 L432.89,315.39 L433.14,313.48 L433.38,311.05 L433.61,309.30 L433.72,308.57 L433.83,306.66 L433.93,306.23 L434.03,305.58 L434.14,303.47 L434.24,303.26 L434.34,301.85 L434.44,300.90 L434.54,298.73 L434.65,297.01 L434.75,296.98 L434.85,295.67 L434.95,293.68 L435.05,291.70 L435.16,290.52 L435.26,289.92 L435.36,287.92 L435.47,287.71 L435.58,285.65 L435.68,283.55 L435.79,282.96 L435.90,281.03 L436.01,280.66 L436.13,279.22 L436.24,277.12 L436.36,275.97 L436.48,274.70 L436.60,273.54 L436.73,272.50 L436.85,269.49 L436.98,268.75 L437.11,267.81 L437.24,265.87 L437.38,264.95 L437.52,262.61 L437.66,262.56 L437.80,260.45 L437.95,258.22 L438.09,257.71 L438.24,255.58 L438.39,253.88 L438.54,252.90 L438.69,250.80 L438.84,249.46 L438.99,249.19 L439.14,247.45 L439.29,244.81 L439.43,244.80 L439.58,242.08 L439.72,241.34 L439.86,241.09 L440.00,239.34 L440.14,237.59 L440.27,236.57 L440.40,235.51 L440.52,234.01 L440.65,234.61 L440.76,232.00 L440.88,231.83 L441.40,229.15 L441.86,226.49 L442.28,226.38 L442.66,224.40 L443.02,225.21 L443.37,224.32 L444.30,221.84 L445.03,221.19 L445.47,219.87 L445.86,221.08 L446.12,221.74 L446.40,222.21 L446.72,223.57 L447.10,226.08 L447.25,226.49 L447.41,226.96 L447.58,229.29 L447.75,229.64 L447.93,231.34 L448.12,233.24 L448.31,233.56 L448.51,234.77 L448.72,236.48 L448.95,238.88 L449.18,240.07 L449.34,241.02 L449.52,242.55 L449.70,244.62 L449.89,244.66 L450.09,246.23 L450.29,248.38 L450.49,249.23 L450.69,249.96 L450.90,251.69 L451.11,253.06 L451.31,253.83 L451.52,255.62 L451.72,256.85 L451.91,259.10 L452.10,259.57 L452.29,261.49 L452.47,263.36 L452.64,264.59 L452.81,264.93 L452.97,266.66 L453.14,267.48 L453.29,268.95 L453.45,270.43 L453.61,272.31 L453.77,273.88 L453.93,274.03 L454.10,274.83 L454.26,276.92 L454.44,277.50 L454.61,278.73 L454.80,281.33 L454.99,281.39 L455.21,283.91 L455.43,284.73 L455.66,287.23 L455.89,288.55 L456.12,288.59 L456.35,290.28 L456.60,293.07 L456.84,293.87 L457.10,294.89 L457.36,296.84 L457.63,298.15 L457.92,298.75 L458.21,299.81 L458.51,300.16 L459.14,302.39 L459.79,303.45 L460.46,305.53 L461.17,306.54 L461.95,306.67 L462.78,308.47 L463.70,308.51 L464.73,309.56 L465.85,311.53 L467.04,312.16 L468.28,313.86 L469.54,314.23 L470.79,315.15 L472.00,314.83 L473.34,316.79 L474.62,315.99 L475.89,317.41 L477.23,318.37 L478.68,318.82 L480.30,319.34 L481.39,318.93 L482.56,319.77 L483.80,320.37 L485.09,319.62 L486.40,321.52 L487.72,321.90 L489.04,321.49 L490.33,322.52 L491.58,322.33 L492.75,322.41 L494.17,323.63 L495.54,322.86 L496.89,324.55 L498.20,325.24 L499.48,324.35 L500.73,325.90 L501.95,324.76 L503.13,326.59 L504.43,326.09 L505.65,327.90 L506.83,327.53 L507.98,329.03 L509.12,328.05 L510.26,328.77 L511.43,330.69 L512.64,330.99 L513.86,331.47 L515.10,331.23 L516.32,332.14 L517.51,333.10 L518.66,333.06 L519.73,335.18 L520.84,335.28 L521.39,335.08 L522.67,335.22 L525.96,335.34 L526.81,335.36 L527.80,335.37 L528.90,335.39 L530.11,335.40 L531.42,335.41 L532.80,335.41 L534.26,335.41 L535.76,335.42 L537.32,335.41 L538.90,335.41 L540.51,335.41 L542.12,335.40 L543.72,335.40 L545.31,335.39 L546.87,335.38 L548.38,335.38 L549.85,335.37 L551.24,335.36 L552.55,335.36 L553.78,335.35 L554.89,335.35 L555.90,335.34 L556.77,335.34 L557.50,335.34" fill="none" stroke="#383838" stroke-width="1.25" stroke-linejoin="round"/>
<path d="M430.50,209.00 H557.50 V336.80" fill="none" stroke="#8c8c8c" stroke-width="1.3"/>
<path d="M430.50,209.00 V336.80 H557.50" fill="none" stroke="#383838" stroke-width="1.5"/>
<path d="M430.50,216.00 h-3.5 M430.50,222.00 h-2.2 M430.50,228.00 h-2.2 M430.50,234.00 h-2.2 M430.50,240.00 h-3.5 M430.50,246.00 h-2.2 M430.50,252.00 h-2.2 M430.50,258.00 h-2.2 M430.50,264.00 h-3.5 M430.50,270.00 h-2.2 M430.50,276.00 h-2.2 M430.50,282.00 h-2.2 M430.50,288.00 h-3.5 M430.50,294.00 h-2.2 M430.50,300.00 h-2.2 M430.50,306.00 h-2.2 M430.50,312.00 h-3.5 M430.50,318.00 h-2.2 M430.50,324.00 h-2.2 M430.50,330.00 h-2.2 M430.50,336.00 h-3.5 M442.70,336.80 v3.2 M456.70,336.80 v3.2 M487.30,336.80 v3.2 M516.00,336.80 v3.2 M544.70,336.80 v3.2 M465.91,336.80 v1.8 M471.30,336.80 v1.8 M475.12,336.80 v1.8 M478.09,336.80 v1.8 M480.51,336.80 v1.8 M482.56,336.80 v1.8 M484.33,336.80 v1.8 M485.90,336.80 v1.8 M495.94,336.80 v1.8 M500.99,336.80 v1.8 M504.58,336.80 v1.8 M507.36,336.80 v1.8 M509.63,336.80 v1.8 M511.55,336.80 v1.8 M513.22,336.80 v1.8 M514.69,336.80 v1.8 M524.64,336.80 v1.8 M529.69,336.80 v1.8 M533.28,336.80 v1.8 M536.06,336.80 v1.8 M538.33,336.80 v1.8 M540.25,336.80 v1.8 M541.92,336.80 v1.8 M543.39,336.80 v1.8 M434.50,336.80 v1.8 M436.50,336.80 v1.8 M438.50,336.80 v1.8 M440.50,336.80 v1.8 M442.50,336.80 v1.8" fill="none" stroke="#444" stroke-width="1.1"/>
<g font-size="7.6" fill="#767676"><text class="tl" x="439.50" y="354.20" text-anchor="middle">0</text><text class="tl" x="458.00" y="354.20" text-anchor="middle">10</text><text class="tl" x="462.10" y="349.20" font-size="6">2</text><text class="tl" x="488.70" y="354.20" text-anchor="middle">10</text><text class="tl" x="492.80" y="349.20" font-size="6">3</text><text class="tl" x="518.00" y="354.20" text-anchor="middle">10</text><text class="tl" x="522.10" y="349.20" font-size="6">4</text><text class="tl" x="546.00" y="354.20" text-anchor="middle">10</text><text class="tl" x="550.10" y="349.20" font-size="6">5</text></g>
<path d="M104.73,512.55 C105.24,507.12 106.80,492.36 107.84,479.97 C108.88,467.58 109.91,450.74 110.95,438.21 C111.99,425.68 113.23,411.69 114.06,404.79 C114.89,397.90 115.41,398.60 115.93,396.86 C116.45,395.12 116.76,394.35 117.18,394.35 C117.59,394.35 117.90,395.12 118.42,396.86 C118.94,398.60 119.53,399.64 120.29,404.79 C121.05,409.95 122.12,419.76 122.99,427.76 C123.85,435.77 124.54,444.82 125.48,452.82 C126.41,460.83 127.55,468.83 128.59,475.79 C129.63,482.75 130.49,489.37 131.70,494.59 C132.91,499.81 134.47,504.12 135.85,507.12 C137.24,510.11 139.31,511.64 140.00,512.55 L140.00,513.80 L104.73,513.80 Z" fill="#a0a0a0" stroke="none"/>
<path d="M101.61,512.34 L101.81,511.29 L102.05,510.13 L102.33,510.06 L102.65,507.95 L103.00,507.61 L103.36,506.04 L103.75,504.15 L104.15,503.55 L104.55,501.23 L104.96,500.42 L105.36,498.21 L105.75,496.65 L106.12,495.63 L106.47,494.72 L106.80,491.82 L107.01,490.86 L107.22,490.41 L107.43,489.76 L107.63,487.84 L107.84,486.22 L108.04,485.95 L108.23,482.93 L108.43,483.03 L108.62,480.63 L108.82,478.97 L109.01,477.52 L109.19,476.46 L109.38,475.96 L109.56,473.41 L109.74,472.73 L109.92,471.44 L110.10,469.58 L110.27,468.54 L110.45,466.33 L110.62,465.01 L110.78,463.99 L110.95,463.59 L111.14,461.70 L111.32,460.04 L111.50,459.07 L111.67,457.38 L111.84,455.64 L112.01,455.07 L112.17,453.46 L112.33,451.21 L112.49,450.39 L112.65,448.92 L112.81,448.19 L112.96,446.60 L113.12,444.51 L113.27,444.51 L113.43,441.76 L113.58,441.15 L113.74,440.67 L113.90,438.55 L114.06,438.19 L114.45,435.36 L114.82,434.82 L115.19,433.60 L115.56,432.07 L115.93,431.56 L116.33,429.55 L116.74,429.22 L117.18,427.93 L117.71,426.59 L118.29,425.09 L118.88,424.54 L119.49,423.54 L120.11,421.54 L120.72,420.77 L121.33,418.62 L122.16,418.32 L122.99,416.82 L123.82,416.14 L124.65,414.68 L125.48,412.76 L126.86,412.09 L128.24,412.21 L129.63,410.20 L130.46,409.97 L131.29,408.16 L132.12,406.66 L132.95,405.19 L133.78,405.28 L134.82,402.81 L135.85,401.79 L136.89,401.05 L137.93,401.29 L139.35,399.75 L140.77,400.87 L142.08,401.75 L143.19,403.13 L144.19,404.02 L145.19,405.45 L145.80,405.31 L146.39,406.52 L146.98,407.55 L147.61,409.91 L148.30,411.88 L148.65,411.44 L149.01,412.60 L149.39,413.90 L149.78,415.19 L150.18,416.99 L150.58,418.58 L150.98,419.43 L151.37,420.42 L151.75,422.63 L152.11,424.00 L152.45,425.80 L152.73,427.70 L152.99,428.43 L153.24,429.33 L153.49,430.74 L153.73,432.08 L153.96,432.20 L154.19,434.99 L154.42,436.06 L154.64,437.54 L154.87,438.74 L155.10,439.37 L155.33,440.77 L155.57,441.67 L155.76,443.81 L155.95,444.00 L156.14,445.26 L156.32,446.79 L156.50,447.99 L156.69,449.62 L156.87,450.42 L157.06,451.66 L157.25,453.28 L157.44,454.53 L157.63,456.35 L157.83,457.09 L158.03,459.96 L158.24,460.83 L158.46,461.32 L158.68,462.82 L158.91,464.30 L159.15,465.64 L159.39,466.53 L159.64,469.16 L159.90,470.75 L160.16,471.13 L160.42,472.48 L160.69,473.09 L160.96,474.44 L161.23,476.19 L161.50,477.35 L161.77,479.67 L162.04,479.75 L162.30,480.78 L162.57,483.71 L162.83,484.20 L163.12,484.94 L163.40,487.11 L163.68,487.65 L163.96,490.02 L164.23,492.30 L164.50,493.55 L164.78,494.68 L165.06,495.30 L165.34,496.85 L165.64,497.79 L165.95,500.13 L166.28,500.88 L166.62,502.43 L166.98,502.63 L167.66,504.04 L168.39,506.50 L169.16,508.03 L169.96,508.86 L170.78,509.71 L171.60,510.54 L172.41,511.10 L173.21,510.80 L173.83,512.09 L173.83,512.34 L175.07,512.32 L179.43,512.34 L180.23,512.35 L181.12,512.36 L182.11,512.38 L183.18,512.39 L184.32,512.39 L185.55,512.40 L186.83,512.41 L188.18,512.41 L189.58,512.41 L191.03,512.41 L192.53,512.42 L194.06,512.42 L195.62,512.41 L197.20,512.41 L198.80,512.41 L200.42,512.41 L202.04,512.41 L203.67,512.40 L205.28,512.40 L206.89,512.39 L208.48,512.39 L210.04,512.38 L211.58,512.38 L213.08,512.37 L214.53,512.37 L215.94,512.36 L217.30,512.36 L218.60,512.35 L219.83,512.35 L220.99,512.35 L222.07,512.34 L223.07,512.34 L223.98,512.34 L224.79,512.34 L225.50,512.34" fill="none" stroke="#383838" stroke-width="1.25" stroke-linejoin="round"/>
<path d="M98.50,386.00 H225.50 V513.80" fill="none" stroke="#8c8c8c" stroke-width="1.3"/>
<path d="M98.50,386.00 V513.80 H225.50" fill="none" stroke="#383838" stroke-width="1.5"/>
<path d="M98.50,393.00 h-3.5 M98.50,399.00 h-2.2 M98.50,405.00 h-2.2 M98.50,411.00 h-2.2 M98.50,417.00 h-3.5 M98.50,423.00 h-2.2 M98.50,429.00 h-2.2 M98.50,435.00 h-2.2 M98.50,441.00 h-3.5 M98.50,447.00 h-2.2 M98.50,453.00 h-2.2 M98.50,459.00 h-2.2 M98.50,465.00 h-3.5 M98.50,471.00 h-2.2 M98.50,477.00 h-2.2 M98.50,483.00 h-2.2 M98.50,489.00 h-3.5 M98.50,495.00 h-2.2 M98.50,501.00 h-2.2 M98.50,507.00 h-2.2 M98.50,513.00 h-3.5 M110.70,513.80 v3.2 M124.70,513.80 v3.2 M155.30,513.80 v3.2 M184.00,513.80 v3.2 M212.70,513.80 v3.2 M133.91,513.80 v1.8 M139.30,513.80 v1.8 M143.12,513.80 v1.8 M146.09,513.80 v1.8 M148.51,513.80 v1.8 M150.56,513.80 v1.8 M152.33,513.80 v1.8 M153.90,513.80 v1.8 M163.94,513.80 v1.8 M168.99,513.80 v1.8 M172.58,513.80 v1.8 M175.36,513.80 v1.8 M177.63,513.80 v1.8 M179.55,513.80 v1.8 M181.22,513.80 v1.8 M182.69,513.80 v1.8 M192.64,513.80 v1.8 M197.69,513.80 v1.8 M201.28,513.80 v1.8 M204.06,513.80 v1.8 M206.33,513.80 v1.8 M208.25,513.80 v1.8 M209.92,513.80 v1.8 M211.39,513.80 v1.8 M102.50,513.80 v1.8 M104.50,513.80 v1.8 M106.50,513.80 v1.8 M108.50,513.80 v1.8 M110.50,513.80 v1.8" fill="none" stroke="#444" stroke-width="1.1"/>
<g font-size="7.6" fill="#767676"><text class="tl" x="107.50" y="531.20" text-anchor="middle">0</text><text class="tl" x="126.00" y="531.20" text-anchor="middle">10</text><text class="tl" x="130.10" y="526.20" font-size="6">2</text><text class="tl" x="156.70" y="531.20" text-anchor="middle">10</text><text class="tl" x="160.80" y="526.20" font-size="6">3</text><text class="tl" x="186.00" y="531.20" text-anchor="middle">10</text><text class="tl" x="190.10" y="526.20" font-size="6">4</text><text class="tl" x="214.00" y="531.20" text-anchor="middle">10</text><text class="tl" x="218.10" y="526.20" font-size="6">5</text></g>
<path d="M278.23,512.55 C278.74,508.86 280.30,499.32 281.34,490.41 C282.38,481.50 283.41,468.49 284.45,459.09 C285.49,449.69 286.53,441.69 287.56,434.03 C288.60,426.37 289.54,419.41 290.68,413.15 C291.82,406.88 293.31,397.49 294.41,396.44 C295.52,395.40 296.38,402.01 297.32,406.88 C298.25,411.75 299.12,418.72 300.01,425.68 C300.91,432.64 301.85,441.34 302.71,448.65 C303.58,455.96 304.27,462.92 305.20,469.53 C306.14,476.14 307.10,482.41 308.32,488.32 C309.53,494.24 311.08,500.99 312.47,505.03 C313.85,509.07 315.92,511.29 316.62,512.55 L316.62,513.80 L278.23,513.80 Z" fill="#a0a0a0" stroke="none"/>
<path d="M275.11,512.34 L275.25,511.11 L275.41,511.57 L275.60,509.10 L275.81,509.07 L276.04,506.77 L276.28,505.78 L276.54,505.74 L276.81,502.84 L277.09,502.04 L277.37,500.04 L277.66,498.27 L277.94,496.51 L278.23,494.03 L278.37,494.13 L278.52,491.68 L278.68,490.78 L278.83,489.17 L278.99,488.35 L279.15,487.31 L279.31,486.86 L279.48,484.55 L279.64,482.67 L279.81,481.52 L279.98,481.40 L280.15,478.28 L280.32,477.83 L280.49,475.93 L280.67,474.98 L280.84,472.95 L281.01,472.14 L281.18,470.36 L281.36,469.23 L281.53,468.30 L281.70,466.37 L281.87,464.25 L282.04,462.83 L282.21,463.17 L282.38,461.16 L282.60,459.09 L282.82,458.93 L283.04,456.76 L283.27,455.55 L283.49,454.35 L283.72,451.83 L283.95,450.54 L284.18,450.07 L284.40,447.36 L284.63,447.15 L284.85,444.63 L285.07,444.41 L285.29,443.18 L285.51,442.41 L285.72,441.04 L285.93,439.29 L286.13,437.64 L286.33,436.50 L286.53,436.17 L286.91,434.21 L287.27,431.78 L287.60,431.85 L287.92,429.87 L288.24,429.05 L288.56,427.03 L288.90,425.88 L289.25,424.17 L289.64,423.31 L289.95,421.87 L290.28,420.63 L290.63,418.89 L290.98,417.96 L291.35,416.30 L291.71,413.28 L292.08,412.06 L292.44,410.19 L292.80,409.86 L293.15,409.49 L293.48,407.54 L293.79,408.41 L294.06,407.87 L294.33,408.08 L294.58,410.50 L294.82,411.08 L295.06,412.34 L295.30,414.55 L295.52,415.99 L295.75,418.16 L295.98,420.02 L296.20,421.68 L296.43,423.52 L296.67,424.28 L296.90,424.95 L297.68,426.63 L298.46,427.12 L299.24,428.28 L300.01,429.60 L300.25,431.26 L300.49,431.68 L300.73,433.10 L300.97,434.73 L301.21,434.29 L301.45,435.50 L301.69,437.06 L301.93,438.90 L302.17,440.68 L302.41,442.46 L302.65,443.25 L302.89,445.87 L303.13,445.66 L303.31,448.35 L303.49,448.47 L303.68,450.94 L303.86,450.74 L304.04,453.76 L304.23,454.75 L304.41,456.56 L304.59,457.22 L304.78,457.91 L304.96,460.75 L305.14,461.22 L305.32,461.99 L305.51,464.33 L305.69,465.52 L305.87,466.84 L306.06,467.60 L306.24,468.85 L306.43,471.05 L306.62,472.20 L306.81,472.99 L306.99,474.93 L307.18,476.83 L307.36,478.18 L307.55,479.10 L307.73,480.30 L307.92,481.57 L308.11,482.64 L308.30,483.87 L308.50,485.58 L308.71,486.21 L308.91,488.52 L309.13,489.66 L309.35,490.61 L309.69,491.15 L310.04,493.32 L310.41,494.95 L310.79,495.81 L311.17,498.79 L311.56,499.76 L311.95,500.60 L312.34,502.18 L312.73,502.43 L313.12,503.55 L313.50,505.08 L314.30,507.34 L315.06,508.65 L315.84,508.68 L316.69,510.71 L317.65,512.03 L317.45,511.95 L316.33,512.21 L317.43,512.27 L323.88,512.34 L324.63,512.35 L325.43,512.36 L326.30,512.36 L327.23,512.37 L328.22,512.38 L329.26,512.38 L330.35,512.39 L331.49,512.39 L332.67,512.40 L333.90,512.40 L335.18,512.40 L336.49,512.41 L337.84,512.41 L339.22,512.41 L340.64,512.41 L342.09,512.41 L343.57,512.41 L345.07,512.42 L346.60,512.42 L348.15,512.42 L349.71,512.41 L351.30,512.41 L352.89,512.41 L354.50,512.41 L356.12,512.41 L357.75,512.41 L359.38,512.41 L361.01,512.40 L362.65,512.40 L364.28,512.40 L365.90,512.40 L367.52,512.39 L369.14,512.39 L370.74,512.39 L372.32,512.39 L373.89,512.38 L375.44,512.38 L376.97,512.38 L378.48,512.37 L379.96,512.37 L381.42,512.37 L382.84,512.36 L384.23,512.36 L385.59,512.36 L386.91,512.36 L388.19,512.35 L389.43,512.35 L390.62,512.35 L391.77,512.35 L392.87,512.35 L393.92,512.34 L394.91,512.34 L395.85,512.34 L396.73,512.34 L397.55,512.34 L398.31,512.34 L399.00,512.34" fill="none" stroke="#383838" stroke-width="1.25" stroke-linejoin="round"/>
<path d="M272.00,386.00 H399.00 V513.80" fill="none" stroke="#8c8c8c" stroke-width="1.3"/>
<path d="M272.00,386.00 V513.80 H399.00" fill="none" stroke="#383838" stroke-width="1.5"/>
<path d="M272.00,393.00 h-3.5 M272.00,399.00 h-2.2 M272.00,405.00 h-2.2 M272.00,411.00 h-2.2 M272.00,417.00 h-3.5 M272.00,423.00 h-2.2 M272.00,429.00 h-2.2 M272.00,435.00 h-2.2 M272.00,441.00 h-3.5 M272.00,447.00 h-2.2 M272.00,453.00 h-2.2 M272.00,459.00 h-2.2 M272.00,465.00 h-3.5 M272.00,471.00 h-2.2 M272.00,477.00 h-2.2 M272.00,483.00 h-2.2 M272.00,489.00 h-3.5 M272.00,495.00 h-2.2 M272.00,501.00 h-2.2 M272.00,507.00 h-2.2 M272.00,513.00 h-3.5 M284.20,513.80 v3.2 M298.20,513.80 v3.2 M328.80,513.80 v3.2 M357.50,513.80 v3.2 M386.20,513.80 v3.2 M307.41,513.80 v1.8 M312.80,513.80 v1.8 M316.62,513.80 v1.8 M319.59,513.80 v1.8 M322.01,513.80 v1.8 M324.06,513.80 v1.8 M325.83,513.80 v1.8 M327.40,513.80 v1.8 M337.44,513.80 v1.8 M342.49,513.80 v1.8 M346.08,513.80 v1.8 M348.86,513.80 v1.8 M351.13,513.80 v1.8 M353.05,513.80 v1.8 M354.72,513.80 v1.8 M356.19,513.80 v1.8 M366.14,513.80 v1.8 M371.19,513.80 v1.8 M374.78,513.80 v1.8 M377.56,513.80 v1.8 M379.83,513.80 v1.8 M381.75,513.80 v1.8 M383.42,513.80 v1.8 M384.89,513.80 v1.8 M276.00,513.80 v1.8 M278.00,513.80 v1.8 M280.00,513.80 v1.8 M282.00,513.80 v1.8 M284.00,513.80 v1.8" fill="none" stroke="#444" stroke-width="1.1"/>
<g font-size="7.6" fill="#767676"><text class="tl" x="281.00" y="531.20" text-anchor="middle">0</text><text class="tl" x="299.50" y="531.20" text-anchor="middle">10</text><text class="tl" x="303.60" y="526.20" font-size="6">2</text><text class="tl" x="330.20" y="531.20" text-anchor="middle">10</text><text class="tl" x="334.30" y="526.20" font-size="6">3</text><text class="tl" x="359.50" y="531.20" text-anchor="middle">10</text><text class="tl" x="363.60" y="526.20" font-size="6">4</text><text class="tl" x="387.50" y="531.20" text-anchor="middle">10</text><text class="tl" x="391.60" y="526.20" font-size="6">5</text></g>
<path d="M434.65,512.55 C435.00,507.12 435.96,492.36 436.73,479.97 C437.49,467.58 438.35,450.74 439.22,438.21 C440.08,425.68 441.15,411.58 441.91,404.79 C442.67,398.01 443.26,399.16 443.78,397.49 C444.30,395.81 444.61,394.60 445.03,394.77 C445.44,394.94 445.75,396.16 446.27,398.53 C446.79,400.90 447.31,402.71 448.14,408.97 C448.97,415.24 450.21,427.42 451.25,436.12 C452.29,444.82 453.33,453.87 454.36,461.18 C455.40,468.49 456.27,474.40 457.48,479.97 C458.69,485.54 459.90,490.41 461.63,494.59 C463.36,498.76 465.60,502.25 467.85,505.03 C470.10,507.81 473.21,510.04 475.12,511.29 C477.02,512.55 478.57,512.34 479.27,512.55 L479.27,513.80 L434.65,513.80 Z" fill="#a0a0a0" stroke="none"/>
<path d="M430.50,507.05 L430.61,506.20 L430.74,505.00 L430.89,505.45 L431.06,502.97 L431.24,502.84 L431.44,502.45 L431.65,499.80 L431.86,499.38 L432.08,498.15 L432.31,495.69 L432.54,494.79 L432.76,493.78 L432.98,491.66 L433.20,490.39 L433.41,487.54 L433.61,485.76 L433.71,484.53 L433.81,484.20 L433.90,483.87 L434.00,482.15 L434.09,481.32 L434.19,479.43 L434.28,478.86 L434.38,476.45 L434.47,475.51 L434.56,474.90 L434.66,473.67 L434.75,471.78 L434.85,469.82 L434.94,468.76 L435.04,467.27 L435.13,466.00 L435.23,465.55 L435.32,463.04 L435.42,462.86 L435.51,461.43 L435.61,458.53 L435.71,457.70 L435.80,456.49 L435.90,454.25 L436.00,453.58 L436.10,453.07 L436.20,450.28 L436.31,449.81 L436.41,447.63 L436.51,447.15 L436.62,446.44 L436.73,443.94 L436.85,442.21 L436.97,440.94 L437.09,440.34 L437.22,437.96 L437.35,436.64 L437.48,435.92 L437.61,435.22 L437.75,432.85 L437.88,431.34 L438.02,430.31 L438.15,427.87 L438.29,427.30 L438.43,425.13 L438.56,424.49 L438.70,423.71 L438.84,420.70 L438.97,420.25 L439.11,419.01 L439.24,416.89 L439.37,415.83 L439.50,415.91 L439.63,414.73 L439.76,412.00 L439.88,411.96 L440.00,411.35 L440.12,409.06 L440.24,408.79 L440.35,406.88 L440.46,406.64 L440.96,404.06 L441.43,401.92 L441.86,401.09 L442.26,399.15 L442.62,399.04 L442.95,399.18 L443.47,396.95 L443.86,395.49 L444.20,394.59 L444.60,395.05 L445.03,394.90 L445.34,394.85 L445.70,397.58 L446.09,398.39 L446.48,400.50 L446.67,401.10 L446.85,402.51 L447.02,403.33 L447.21,404.03 L447.40,406.26 L447.62,406.75 L447.86,409.63 L448.14,410.20 L448.28,412.59 L448.44,413.73 L448.60,414.33 L448.77,415.93 L448.95,416.38 L449.13,418.58 L449.32,419.39 L449.51,420.44 L449.70,423.18 L449.90,423.62 L450.09,425.03 L450.29,427.39 L450.49,427.98 L450.68,429.99 L450.88,430.56 L451.07,433.22 L451.25,433.60 L451.42,434.50 L451.58,437.47 L451.74,437.35 L451.91,440.08 L452.07,441.51 L452.23,442.19 L452.40,442.50 L452.56,443.96 L452.73,445.61 L452.89,447.31 L453.05,449.07 L453.22,451.07 L453.38,451.30 L453.55,452.24 L453.71,454.30 L453.87,454.81 L454.04,455.96 L454.20,458.02 L454.36,459.44 L454.58,459.86 L454.78,462.09 L454.98,464.05 L455.16,465.63 L455.35,466.39 L455.54,468.72 L455.73,468.80 L455.93,471.13 L456.14,472.53 L456.36,473.99 L456.60,474.51 L456.87,474.97 L457.16,476.00 L457.48,477.93 L458.02,478.84 L458.61,481.08 L459.24,481.39 L459.92,483.83 L460.62,483.93 L461.36,484.59 L462.12,485.86 L462.90,487.31 L463.70,488.43 L464.76,489.25 L465.86,489.86 L467.01,491.32 L468.19,493.00 L469.42,493.06 L470.69,494.58 L472.00,493.74 L473.20,496.19 L474.45,496.69 L475.74,496.75 L477.06,497.37 L478.40,498.04 L479.74,499.34 L481.07,498.43 L482.38,500.07 L483.68,500.46 L484.97,500.57 L486.27,501.86 L487.57,502.36 L488.86,501.75 L490.16,503.32 L491.46,503.39 L492.75,503.97 L494.05,504.76 L495.35,504.25 L496.65,505.78 L497.94,505.91 L499.24,507.35 L500.54,506.71 L501.83,508.27 L503.13,508.58 L504.44,508.84 L505.77,509.74 L507.11,508.67 L508.45,510.10 L509.77,510.52 L511.06,511.00 L512.31,510.84 L513.51,510.52 L514.69,511.04 L515.41,511.84 L516.07,512.01 L517.09,512.14 L518.86,512.25 L521.81,512.34 L522.68,512.36 L523.67,512.37 L524.77,512.38 L525.96,512.39 L527.23,512.40 L528.58,512.41 L530.00,512.41 L531.48,512.41 L533.00,512.42 L534.56,512.41 L536.14,512.41 L537.75,512.41 L539.36,512.41 L540.98,512.40 L542.58,512.40 L544.16,512.39 L545.72,512.38 L547.23,512.38 L548.70,512.37 L550.10,512.36 L551.44,512.36 L552.70,512.35 L553.87,512.35 L554.95,512.34 L555.92,512.34 L556.77,512.34 L557.50,512.34" fill="none" stroke="#383838" stroke-width="1.25" stroke-linejoin="round"/>
<path d="M430.50,386.00 H557.50 V513.80" fill="none" stroke="#8c8c8c" stroke-width="1.3"/>
<path d="M430.50,386.00 V513.80 H557.50" fill="none" stroke="#383838" stroke-width="1.5"/>
<path d="M430.50,393.00 h-3.5 M430.50,399.00 h-2.2 M430.50,405.00 h-2.2 M430.50,411.00 h-2.2 M430.50,417.00 h-3.5 M430.50,423.00 h-2.2 M430.50,429.00 h-2.2 M430.50,435.00 h-2.2 M430.50,441.00 h-3.5 M430.50,447.00 h-2.2 M430.50,453.00 h-2.2 M430.50,459.00 h-2.2 M430.50,465.00 h-3.5 M430.50,471.00 h-2.2 M430.50,477.00 h-2.2 M430.50,483.00 h-2.2 M430.50,489.00 h-3.5 M430.50,495.00 h-2.2 M430.50,501.00 h-2.2 M430.50,507.00 h-2.2 M430.50,513.00 h-3.5 M442.70,513.80 v3.2 M456.70,513.80 v3.2 M487.30,513.80 v3.2 M516.00,513.80 v3.2 M544.70,513.80 v3.2 M465.91,513.80 v1.8 M471.30,513.80 v1.8 M475.12,513.80 v1.8 M478.09,513.80 v1.8 M480.51,513.80 v1.8 M482.56,513.80 v1.8 M484.33,513.80 v1.8 M485.90,513.80 v1.8 M495.94,513.80 v1.8 M500.99,513.80 v1.8 M504.58,513.80 v1.8 M507.36,513.80 v1.8 M509.63,513.80 v1.8 M511.55,513.80 v1.8 M513.22,513.80 v1.8 M514.69,513.80 v1.8 M524.64,513.80 v1.8 M529.69,513.80 v1.8 M533.28,513.80 v1.8 M536.06,513.80 v1.8 M538.33,513.80 v1.8 M540.25,513.80 v1.8 M541.92,513.80 v1.8 M543.39,513.80 v1.8 M434.50,513.80 v1.8 M436.50,513.80 v1.8 M438.50,513.80 v1.8 M440.50,513.80 v1.8 M442.50,513.80 v1.8" fill="none" stroke="#444" stroke-width="1.1"/>
<g font-size="7.6" fill="#767676"><text class="tl" x="439.50" y="531.20" text-anchor="middle">0</text><text class="tl" x="458.00" y="531.20" text-anchor="middle">10</text><text class="tl" x="462.10" y="526.20" font-size="6">2</text><text class="tl" x="488.70" y="531.20" text-anchor="middle">10</text><text class="tl" x="492.80" y="526.20" font-size="6">3</text><text class="tl" x="518.00" y="531.20" text-anchor="middle">10</text><text class="tl" x="522.10" y="526.20" font-size="6">4</text><text class="tl" x="546.00" y="531.20" text-anchor="middle">10</text><text class="tl" x="550.10" y="526.20" font-size="6">5</text></g>
<text x="96.50" y="558.60" font-size="17.70" text-anchor="start" fill="#1a1a1a" >Alexa-Fluor 647</text>
<path d="M232.5,553.8 H546" stroke="#111" stroke-width="2.2"/>
<path d="M544,548.7 L557.3,553.8 L544,559.2 Z" fill="#111"/>
<rect x="147" y="578.5" width="24.5" height="24" fill="#9a9a9a" stroke="#333" stroke-width="1.3" rx="1"/>
<text x="175.50" y="596.70" font-size="17.70" text-anchor="start" fill="#1a1a1a" >Untreated</text>
<rect x="391.8" y="578.8" width="24.5" height="24" fill="#fff" stroke="#333" stroke-width="1.3" rx="1"/>
<text x="430.50" y="596.90" font-size="17.70" text-anchor="start" fill="#1a1a1a" >Treated</text>
<text x="626.00" y="33.00" font-size="22.00" text-anchor="start" fill="#1a1a1a" >(b)</text>
<path d="M721.50,36.5 V220.30 H1039" fill="none" stroke="#555" stroke-width="1.4"/>
<text x="702.80" y="226.80" font-size="21.20" text-anchor="end" fill="#1a1a1a" >0</text>
<text x="702.80" y="196.20" font-size="21.20" text-anchor="end" fill="#1a1a1a" >2</text>
<text x="702.80" y="165.60" font-size="21.20" text-anchor="end" fill="#1a1a1a" >4</text>
<text x="702.80" y="135.00" font-size="21.20" text-anchor="end" fill="#1a1a1a" >6</text>
<text x="702.80" y="104.40" font-size="21.20" text-anchor="end" fill="#1a1a1a" >8</text>
<text x="702.80" y="73.80" font-size="21.20" text-anchor="end" fill="#1a1a1a" >10</text>
<text x="702.80" y="43.20" font-size="21.20" text-anchor="end" fill="#1a1a1a" >12</text>
<text transform="translate(652.5,129.5) rotate(-90)" font-size="20.8" text-anchor="middle" fill="#1a1a1a">MFI ratio,</text>
<text transform="translate(675,128.6) rotate(-90)" font-size="20.8" text-anchor="middle" fill="#1a1a1a">treated:untreated</text>
<text transform="translate(774.50,250.5) scale(1,1.08)" font-size="20.5" text-anchor="middle" fill="#1a1a1a">PG1.C15</text>
<text transform="translate(879.00,250.5) scale(1,1.08)" font-size="20.5" text-anchor="middle" fill="#1a1a1a">DG1.C14</text>
<text transform="translate(985.50,250.5) scale(1,1.08)" font-size="20.5" text-anchor="middle" fill="#1a1a1a">DG1.C15</text>
<rect x="741.20" y="184.10" width="19.60" height="36.20" fill="#ffffff" stroke="#333" stroke-width="1.50"/>
<path d="M751.00,176.90 V190.60 M746.70,176.90 h8.6 M746.70,190.60 h8.6" fill="none" stroke="#555" stroke-width="1.1"/>
<rect x="764.30" y="202.70" width="19.20" height="17.60" fill="url(#hatchB)" stroke="#333" stroke-width="1.50"/>
<path d="M774.00,200.50 V204.50 M769.70,200.50 h8.6 M769.70,204.50 h8.6" fill="none" stroke="#555" stroke-width="1.1"/>
<rect x="787.80" y="188.20" width="19.20" height="32.10" fill="#959595" stroke="#333" stroke-width="1.50"/>
<path d="M797.40,183.10 V193.50 M793.10,183.10 h8.6 M793.10,193.50 h8.6" fill="none" stroke="#555" stroke-width="1.1"/>
<path d="M750.00,169.60 H775.50" stroke="#555" stroke-width="1.5"/>
<path d="M774.00,163.10 H799.00" stroke="#555" stroke-width="1.5"/>
<rect x="846.40" y="111.00" width="19.60" height="109.30" fill="#ffffff" stroke="#333" stroke-width="1.50"/>
<path d="M856.20,71.70 V148.80 M851.90,71.70 h8.6 M851.90,148.80 h8.6" fill="none" stroke="#555" stroke-width="1.1"/>
<rect x="870.30" y="206.70" width="19.60" height="13.60" fill="url(#hatchB)" stroke="#333" stroke-width="1.50"/>
<path d="M880.10,205.50 V207.80 M876.10,205.50 h8.0 M876.10,207.80 h8.0" fill="none" stroke="#555" stroke-width="1.1"/>
<rect x="893.10" y="192.00" width="19.60" height="28.30" fill="#959595" stroke="#333" stroke-width="1.50"/>
<path d="M902.90,189.30 V195.90 M898.60,189.30 h8.6 M898.60,195.90 h8.6" fill="none" stroke="#555" stroke-width="1.1"/>
<path d="M852.90,60.30 H903.60" stroke="#555" stroke-width="1.5"/>
<path d="M852.90,67.50 H879.10" stroke="#555" stroke-width="1.5"/>
<rect x="952.00" y="147.80" width="19.60" height="72.50" fill="#ffffff" stroke="#333" stroke-width="1.50"/>
<path d="M961.80,137.40 V159.30 M957.50,137.40 h8.6 M957.50,159.30 h8.6" fill="none" stroke="#555" stroke-width="1.1"/>
<rect x="975.80" y="207.60" width="19.60" height="12.70" fill="url(#hatchB)" stroke="#333" stroke-width="1.50"/>
<path d="M985.60,205.70 V209.50 M981.60,205.70 h8.0 M981.60,209.50 h8.0" fill="none" stroke="#555" stroke-width="1.1"/>
<rect x="999.30" y="200.80" width="19.40" height="19.50" fill="#959595" stroke="#333" stroke-width="1.50"/>
<path d="M1009.00,191.00 V210.00 M1004.70,191.00 h8.6 M1004.70,210.00 h8.6" fill="none" stroke="#555" stroke-width="1.1"/>
<path d="M960.10,125.00 H1010.80" stroke="#555" stroke-width="1.5"/>
<path d="M960.10,131.50 H986.30" stroke="#555" stroke-width="1.5"/>
<rect x="924.5" y="17" width="11.5" height="10.5" fill="#fff" stroke="#333" stroke-width="1.3"/>
<rect x="924.5" y="37.3" width="11.5" height="10.5" fill="url(#hatchB)" stroke="#333" stroke-width="1.3"/>
<rect x="924.5" y="58.3" width="11.5" height="11" fill="#a0a0a0" stroke="#333" stroke-width="1.3"/>
<text x="940.00" y="27.90" font-size="20.00" text-anchor="start" fill="#1a1a1a" letter-spacing="0.4">Endothelial</text>
<text x="940.00" y="48.60" font-size="20.00" text-anchor="start" fill="#1a1a1a" letter-spacing="0.4">Epithelial</text>
<text x="940.00" y="69.30" font-size="20.00" text-anchor="start" fill="#1a1a1a" letter-spacing="0.4">Immune</text>
<text x="633.00" y="334.00" font-size="22.00" text-anchor="start" fill="#1a1a1a" >(c)</text>
<path d="M716.00,381.6 V568.90 H1040.5" fill="none" stroke="#555" stroke-width="1.25"/>
<text x="698.50" y="576.20" font-size="20.70" text-anchor="end" fill="#1a1a1a" >0</text>
<text x="698.50" y="528.90" font-size="20.70" text-anchor="end" fill="#1a1a1a" >50</text>
<text x="698.50" y="481.60" font-size="20.70" text-anchor="end" fill="#1a1a1a" >100</text>
<text x="698.50" y="434.30" font-size="20.70" text-anchor="end" fill="#1a1a1a" >150</text>
<text transform="translate(656,486) rotate(-90)" font-size="20.7" text-anchor="middle" fill="#1a1a1a">Gene expression (%)</text>
<text x="769.00" y="599.30" font-size="20.50" text-anchor="middle" fill="#1a1a1a" >PG1.C15</text>
<text x="878.00" y="599.30" font-size="20.50" text-anchor="middle" fill="#1a1a1a" >DG1.C14</text>
<text x="985.80" y="599.30" font-size="20.50" text-anchor="middle" fill="#1a1a1a" >DG1.C15</text>
<rect x="736.20" y="564.70" width="19.70" height="4.20" fill="#a0a0a0" stroke="#333" stroke-width="1.25"/>
<path d="M746.00,562.40 V566.50 M741.70,562.40 h8.6 M741.70,566.50 h8.6" fill="none" stroke="#555" stroke-width="1.1"/>
<rect x="760.30" y="450.00" width="19.10" height="118.90" fill="url(#hatch)" stroke="#333" stroke-width="1.25"/>
<path d="M769.80,434.70 V467.00 M765.50,434.70 h8.6 M765.50,467.00 h8.6" fill="none" stroke="#555" stroke-width="1.1"/>
<rect x="783.80" y="468.20" width="19.20" height="100.70" fill="#ffffff" stroke="#333" stroke-width="1.25"/>
<path d="M793.40,455.00 V483.20 M789.10,455.00 h8.6 M789.10,483.20 h8.6" fill="none" stroke="#555" stroke-width="1.1"/>
<path d="M740.30,416.80 H799.10" stroke="#555" stroke-width="1.5"/>
<path d="M740.30,425.30 H773.50" stroke="#555" stroke-width="1.5"/>
<rect x="843.80" y="553.00" width="20.00" height="15.90" fill="#a0a0a0" stroke="#333" stroke-width="1.25"/>
<path d="M853.80,551.20 V557.00 M849.50,551.20 h8.6 M849.50,557.00 h8.6" fill="none" stroke="#555" stroke-width="1.1"/>
<rect x="868.60" y="512.60" width="19.20" height="56.30" fill="url(#hatch)" stroke="#333" stroke-width="1.25"/>
<path d="M878.20,504.70 V521.80 M873.90,504.70 h8.6 M873.90,521.80 h8.6" fill="none" stroke="#555" stroke-width="1.1"/>
<rect x="892.10" y="472.50" width="19.80" height="96.40" fill="#ffffff" stroke="#333" stroke-width="1.25"/>
<path d="M902.00,421.10 V524.60 M897.70,421.10 h8.6 M897.70,524.60 h8.6" fill="none" stroke="#555" stroke-width="1.1"/>
<path d="M843.60,406.70 H902.90" stroke="#555" stroke-width="1.5"/>
<rect x="952.10" y="555.20" width="19.80" height="13.70" fill="#a0a0a0" stroke="#333" stroke-width="1.25"/>
<path d="M962.00,550.50 V560.00 M957.70,550.50 h8.6 M957.70,560.00 h8.6" fill="none" stroke="#555" stroke-width="1.1"/>
<rect x="975.90" y="511.70" width="20.50" height="57.20" fill="url(#hatch)" stroke="#333" stroke-width="1.25"/>
<path d="M986.10,479.70 V544.00 M981.80,479.70 h8.6 M981.80,544.00 h8.6" fill="none" stroke="#555" stroke-width="1.1"/>
<rect x="1000.00" y="426.50" width="19.70" height="142.40" fill="#ffffff" stroke="#333" stroke-width="1.25"/>
<path d="M1009.80,381.60 V472.50 M1005.50,381.60 h8.6 M1005.50,472.50 h8.6" fill="none" stroke="#555" stroke-width="1.1"/>
<path d="M952.50,361.80 H1010.70" stroke="#555" stroke-width="1.5"/>
<path d="M986.70,372.60 H1010.70" stroke="#555" stroke-width="1.5"/>
<rect x="766.5" y="321.5" width="11" height="11" fill="#a0a0a0" stroke="#333" stroke-width="1.3"/>
<text x="780.50" y="333.40" font-size="20.00" text-anchor="start" fill="#1a1a1a" letter-spacing="0.8">Tie2</text>
<rect x="840" y="321.5" width="11" height="11" fill="url(#hatch)" stroke="#333" stroke-width="1.3"/>
<text x="855.50" y="333.40" font-size="20.00" text-anchor="start" fill="#1a1a1a" >Itgb1</text>
<rect x="918.3" y="321.5" width="10.5" height="11" fill="#fff" stroke="#333" stroke-width="1.3"/>
<text x="933.50" y="333.40" font-size="20.00" text-anchor="start" fill="#1a1a1a" letter-spacing="0.8">Kras</text>
<path d="M0,0 H1050 V612 H0 Z M5,5.2 V606.4 H1044.5 V5.2 Z" fill="#0000ff" fill-rule="evenodd"/>
</svg>
</body></html>
